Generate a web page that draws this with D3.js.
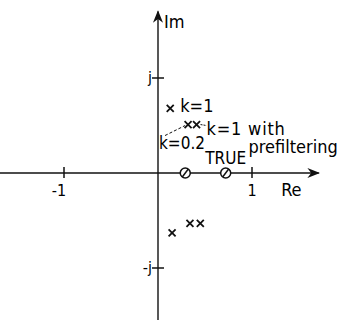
<!DOCTYPE html>
<html>
<head>
<meta charset="utf-8">
<script src="https://cdn.jsdelivr.net/npm/d3@7"></script>
<style>
  html, body { margin: 0; padding: 0; background: #fff; }
  svg { display: block; }
  text { font-family: "DejaVu Sans Condensed", "DejaVu Sans", sans-serif; fill: #000; }
</style>
</head>
<body>
<svg id="chart" width="352" height="320"></svg>
<script>
// Zeros on the real axis
const zeroRe = [0.29, 0.72];
// Closed-loop poles, k = 1
const poleK1Re = [0.13, 0.15];
const poleK1Im = [0.68, -0.63];
// Closed-loop poles, k = 1 with prefiltering (double poles drawn as xx)
const polePfRe = [0.32, 0.41, 0.34, 0.45];
const polePfIm = [0.51, 0.51, -0.53, -0.53];
// Axis tick labels
const reTicks = [-1, 1];
const reTickLabels = ["-1", "1"];
const imTicks = [1, -1];
const imTickLabels = ["j", "-j"];

const svg = d3.select("#chart");
const x = d3.scaleLinear().domain([-1, 1]).range([64, 252]);
const y = d3.scaleLinear().domain([-1, 1]).range([268, 78]);
const ink = "#111";

// Arrow head
svg.append("defs").append("marker")
  .attr("id", "arrow").attr("viewBox", "0 0 10 10")
  .attr("refX", 9).attr("refY", 5)
  .attr("markerWidth", 9).attr("markerHeight", 9)
  .attr("orient", "auto-start-reverse")
  .append("path").attr("d", "M0,1 L10,5 L0,9 L3,5 Z").attr("fill", ink);

// Real axis
svg.append("line")
  .attr("x1", x(-1.7)).attr("x2", x(1.71))
  .attr("y1", y(0)).attr("y2", y(0))
  .attr("stroke", ink).attr("stroke-width", 1.4)
  .attr("marker-end", "url(#arrow)");
// Imaginary axis
svg.append("line")
  .attr("x1", x(0)).attr("x2", x(0))
  .attr("y1", y(-1.6)).attr("y2", y(1.7))
  .attr("stroke", ink).attr("stroke-width", 1.4)
  .attr("marker-end", "url(#arrow)");

// Real-axis ticks
svg.selectAll(".rtick").data(reTicks).join("line")
  .attr("x1", d => x(d)).attr("x2", d => x(d))
  .attr("y1", y(0) - 6).attr("y2", y(0) + 5)
  .attr("stroke", ink).attr("stroke-width", 1.5);
svg.selectAll(".rlab").data(reTicks).join("text")
  .attr("x", d => x(d) + (d < 0 ? -5 : 0)).attr("y", y(0) + 23)
  .attr("text-anchor", "middle").attr("font-size", 16)
  .text((d, i) => reTickLabels[i]);

// Imaginary-axis ticks
svg.selectAll(".itick").data(imTicks).join("line")
  .attr("x1", x(0) - 6).attr("x2", x(0) + 6)
  .attr("y1", d => y(d)).attr("y2", d => y(d))
  .attr("stroke", ink).attr("stroke-width", 1.5);
svg.selectAll(".ilab").data(imTicks).join("text")
  .attr("x", x(0) - 6).attr("y", d => y(d) + 5)
  .attr("text-anchor", "end").attr("font-size", 16)
  .text((d, i) => imTickLabels[i]);

// Axis names
svg.append("text").attr("x", x(0) + 6).attr("y", y(1.53))
  .attr("font-size", 18).text("Im");
svg.append("text").attr("x", x(1.31)).attr("y", y(0) + 23)
  .attr("font-size", 18).text("Re");

// Zeros: circles with a slash
const zg = svg.selectAll(".zero").data(zeroRe).join("g")
  .attr("transform", d => `translate(${x(d)},${y(0)})`);
zg.append("circle").attr("r", 5).attr("fill", "#fff")
  .attr("stroke", ink).attr("stroke-width", 1.5);
zg.append("line").attr("x1", -3).attr("y1", 4).attr("x2", 3).attr("y2", -4)
  .attr("stroke", ink).attr("stroke-width", 1.5);

// Poles: crosses
function cross(sel, s) {
  sel.append("path")
    .attr("d", `M${-s},${-s}L${s},${s}M${-s},${s}L${s},${-s}`)
    .attr("stroke", ink).attr("stroke-width", 1.8).attr("fill", "none");
}
const k1 = poleK1Re.map((r, i) => ({ re: r, im: poleK1Im[i] }));
const pf = polePfRe.map((r, i) => ({ re: r, im: polePfIm[i] }));
svg.selectAll(".pk1").data(k1).join("g")
  .attr("transform", d => `translate(${x(d.re)},${y(d.im)})`)
  .call(cross, 3.5);
svg.selectAll(".ppf").data(pf).join("g")
  .attr("transform", d => `translate(${x(d.re)},${y(d.im)})`)
  .call(cross, 3.5);

// Annotations
const fs = 18;
svg.append("text").attr("x", x(k1[0].re) + 10).attr("y", y(k1[0].im) + 4)
  .attr("font-size", fs).text("k=1");
// leader from the prefiltered poles to their label
svg.append("line")
  .attr("x1", x(pf[1].re) + 4).attr("y1", y(pf[1].im))
  .attr("x2", x(pf[1].re) + 10).attr("y2", y(pf[1].im) + 1)
  .attr("stroke", ink).attr("stroke-width", 1).attr("stroke-dasharray", "2,1");
svg.append("text").attr("x", x(pf[1].re) + 10).attr("y", y(pf[1].im) + 10)
  .attr("font-size", fs).attr("letter-spacing", 0.8).text("k=1 with");
svg.append("text").attr("x", x(pf[1].re) + 52).attr("y", y(pf[1].im) + 28)
  .attr("font-size", fs).text("prefiltering");
// dashed leader from the k=0.2 label up to the poles
svg.append("line")
  .attr("x1", x(0) + 7).attr("y1", y(pf[0].im) + 11)
  .attr("x2", x(pf[0].re) - 3).attr("y2", y(pf[0].im) + 1)
  .attr("stroke", ink).attr("stroke-width", 1).attr("stroke-dasharray", "3,2");
svg.append("text").attr("x", x(0) + 1).attr("y", y(pf[0].im) + 24)
  .attr("font-size", 17).text("k=0.2");
svg.append("text").attr("x", x(zeroRe[1])).attr("y", y(0) - 9)
  .attr("text-anchor", "middle").attr("font-size", 17).text("TRUE");
</script>
</body>
</html>
